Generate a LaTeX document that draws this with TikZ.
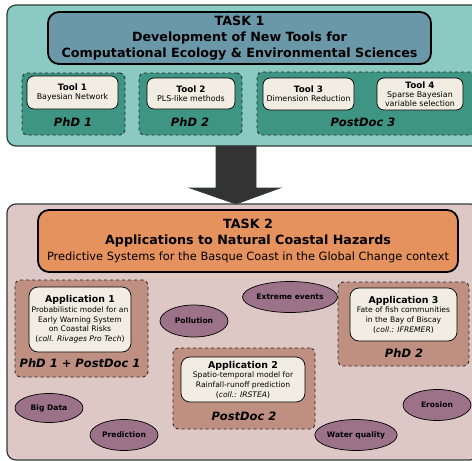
\documentclass[tikz,border=0pt]{standalone}
\usepackage{fontspec}
\setmainfont{DejaVu Sans}
\usetikzlibrary{shapes.geometric}
\definecolor{panelA}{HTML}{8BCAC3}
\definecolor{taskA}{HTML}{6B98A9}
\definecolor{groupA}{HTML}{3F9584}
\definecolor{panelB}{HTML}{DDC8C5}
\definecolor{taskB}{HTML}{E5925F}
\definecolor{groupB}{HTML}{BF9082}
\definecolor{cream}{HTML}{F1EDE2}
\definecolor{mauve}{HTML}{9C7289}
\definecolor{edge}{HTML}{2F3F38}
\begin{document}
\begin{tikzpicture}[x=1pt,y=-1pt,
  panel/.style={draw=edge,line width=1.2pt,rounded corners=9pt},
  taskbox/.style={draw=black,line width=1.8pt,rounded corners=11pt,align=center,inner sep=0pt},
  group/.style={draw=black!85,dashed,line width=0.9pt,rounded corners=5pt},
  toolbox/.style={draw=black,line width=0.7pt,fill=cream,rounded corners=7pt,align=center,inner sep=0pt,font=\fontsize{7.9}{9}\selectfont},
  appbox/.style={draw=black,line width=0.7pt,fill=cream,rounded corners=9pt,align=center,inner sep=0pt,font=\fontsize{7.6}{9.7}\selectfont},
  who/.style={font=\fontsize{11.5}{13}\selectfont\bfseries\itshape},
  topic/.style={ellipse,draw=black,line width=0.7pt,fill=mauve,inner sep=0pt,font=\fontsize{7.6}{9}\selectfont\bfseries}]
\useasboundingbox (0,0) rectangle (472,461);

% task 1
\node[panel,fill=panelA,minimum width=480pt,minimum height=141pt] (panel1) at (247,75.5) {};
\node[taskbox,fill=taskA,minimum width=383pt,minimum height=52pt,font=\fontsize{12.7}{16}\selectfont\bfseries] (task1) at (239.5,38)
  {TASK 1\\Development of New Tools for\\Computational Ecology \& Environmental Sciences};

\node[group,fill=groupA,minimum width=103pt,minimum height=62pt] (phd1) at (73.5,104) {};
\node[group,fill=groupA,minimum width=103pt,minimum height=62pt] (phd2) at (190.5,104) {};
\node[group,fill=groupA,minimum width=218pt,minimum height=63pt] (pd3) at (366,103.5) {};

\node[toolbox,minimum width=91pt,minimum height=33pt] (tool1) at (72.5,92.5) {\textbf{\fontsize{8.8}{10}\selectfont Tool 1}\\Bayesian Network};
\node[toolbox,minimum width=88pt,minimum height=31pt] (tool2) at (191,93.5) {\textbf{\fontsize{8.8}{10}\selectfont Tool 2}\\PLS-like methods};
\node[toolbox,minimum width=91pt,minimum height=32pt] (tool3) at (308.5,94) {\textbf{\fontsize{8.8}{10}\selectfont Tool 3}\\Dimension Reduction};
\node[toolbox,minimum width=86pt,minimum height=32pt] (tool4) at (420,94) {\textbf{\fontsize{8.8}{10}\selectfont Tool 4}\\Sparse Bayesian\\variable selection};

\node[who] (lab1) at (73,122) {PhD 1};
\node[who] (lab2) at (190,122) {PhD 2};
\node[who] (lab3) at (363,122) {PostDoc 3};

% arrow
\fill[black!80,draw=edge,line width=0.8pt] (216,146) -- (256,146) -- (256,188) -- (280,188) -- (236,204) -- (190,188) -- (216,188) -- cycle;

% task 2
\node[panel,fill=panelB,minimum width=472pt,minimum height=256pt] (panel2) at (243,332) {};
\node[taskbox,fill=taskB,minimum width=420pt,minimum height=62pt,font=\fontsize{12.7}{16}\selectfont] (task2) at (248,241)
  {\textbf{TASK 2}\\\textbf{Applications to Natural Coastal Hazards}\\{\fontsize{11.4}{14}\selectfont Predictive Systems for the Basque Coast in the Global Change context}};

\node[group,fill=groupB,minimum width=133pt,minimum height=97pt] (grp1) at (81.5,328.5) {};
\node[group,fill=groupB,minimum width=131pt,minimum height=84pt] (grp3) at (403.5,324) {};
\node[group,fill=groupB,minimum width=142pt,minimum height=81pt] (grp2) at (244,388.5) {};

\node[appbox,minimum width=102pt,minimum height=65pt] (app1) at (80,319.5)
  {{\fontsize{9.4}{11}\selectfont\bfseries Application 1}\\Probabilistic model for an\\Early Warning System\\on Coastal Risks\\(\textit{coll. Rivages Pro Tech})};
\node[appbox,minimum width=107pt,minimum height=53pt] (app3) at (403.5,314.5)
  {{\fontsize{9.4}{11}\selectfont\bfseries Application 3}\\Fate of fish communities\\in the Bay of Biscay\\(\textit{coll.: IFREMER})};
\node[appbox,minimum width=124pt,minimum height=45pt] (app2) at (243,379.5)
  {{\fontsize{9.4}{11}\selectfont\bfseries Application 2}\\Spatio-temporal model for\\Rainfall-runoff prediction\\(\textit{coll.: IRSTEA})};

\node[who] (lab4) at (80,363) {PhD 1 + PostDoc 1};
\node[who] (lab5) at (404,353) {PhD 2};
\node[who] (lab6) at (244,416) {PostDoc 2};

\node[topic,minimum width=75pt,minimum height=31pt] (extreme) at (290,297) {Extreme events};
\node[topic,minimum width=68pt,minimum height=32pt] (pollution) at (194,321) {Pollution};
\node[topic,minimum width=68pt,minimum height=29pt] (bigdata) at (49,408) {Big Data};
\node[topic,minimum width=68pt,minimum height=31pt] (prediction) at (124,435) {Prediction};
\node[topic,minimum width=68pt,minimum height=31pt] (water) at (356,435) {Water quality};
\node[topic,minimum width=68pt,minimum height=31pt] (erosion) at (437,405) {Erosion};
\end{tikzpicture}
\end{document}
